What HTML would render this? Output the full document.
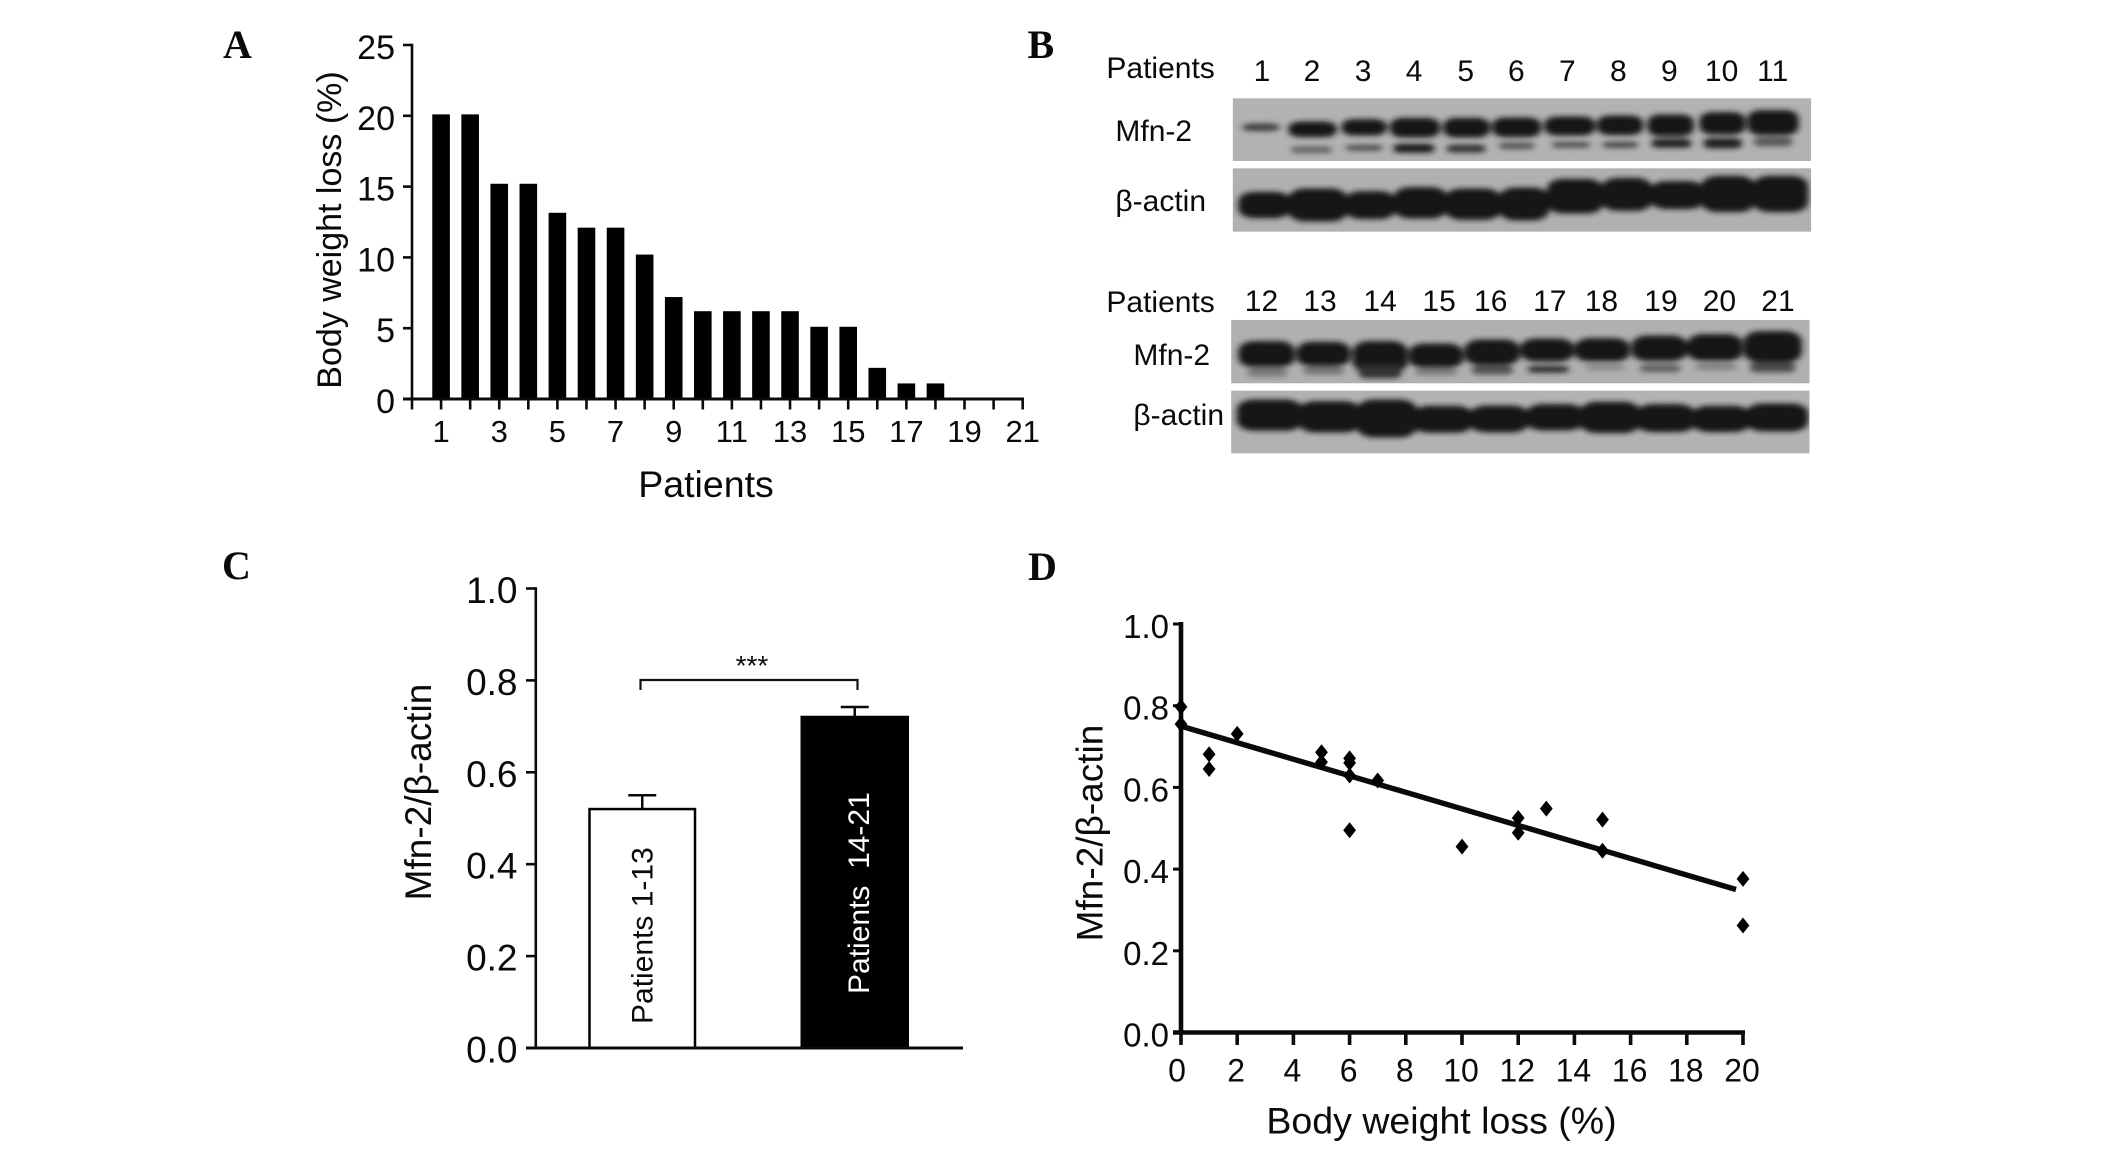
<!DOCTYPE html>
<html lang="en">
<head>
<meta charset="utf-8">
<title>Mfn-2 expression and body weight loss</title>
<style>
html,body{margin:0;padding:0;background:#fff;width:2126px;height:1150px;overflow:hidden}
svg{display:block}
text{font-family:"Liberation Sans",Arial,sans-serif;fill:#0a0a0a}
.letter{font-family:"Liberation Serif",serif;font-weight:bold;font-size:40px}
.blot{font-size:30px}
.band{fill:#141414}
.band:not([style]){stroke:#141414;stroke-width:9}
</style>
</head>
<body>
<svg id="figure" xmlns="http://www.w3.org/2000/svg" width="2126" height="1150" viewBox="0 0 2126 1150">
  <defs>
    <filter id="soft" x="-5%" y="-5%" width="110%" height="110%"><feGaussianBlur stdDeviation="6 8"/></filter>
    <clipPath id="blot-clip">
      <rect x="403" y="235" width="1087" height="188"/>
      <rect x="403" y="445" width="1087" height="190"/>
      <rect x="400" y="900" width="1087" height="190"/>
      <rect x="400" y="1112" width="1087" height="188"/>
    </clipPath>
  </defs>
  <rect width="2126" height="1150" fill="#fff"/>
  <text class="letter" x="223" y="58">A</text>
  <text class="letter" x="1027.5" y="58">B</text>
  <text class="letter" x="222" y="579">C</text>
  <text class="letter" x="1028" y="580">D</text>

  <g id="panel-a"></g>

  <g id="panel-b" transform="translate(-1.6 0)">
    <g transform="translate(1020 20) scale(0.532 0.3333)">
      <rect x="403" y="235" width="1087" height="188" fill="#b2b2b2"/>
      <rect x="403" y="445" width="1087" height="190" fill="#b0b0b0"/>
      <rect x="400" y="900" width="1087" height="190" fill="#b0b0b0"/>
      <rect x="400" y="1112" width="1087" height="188" fill="#b2b2b2"/>
      <g clip-path="url(#blot-clip)">
      <g filter="url(#soft)">
        <g>
          <rect class="band" x="420" y="311" width="72" height="22" rx="20" ry="11" style="fill:#3a3a3a"/>
          <rect class="band" x="512" y="309" width="82" height="38" rx="20" ry="15"/>
          <rect class="band" x="612" y="302" width="76" height="40" rx="20" ry="15"/>
          <rect class="band" x="703" y="298" width="85" height="50" rx="20" ry="18"/>
          <rect class="band" x="803" y="298" width="79" height="50" rx="20" ry="18"/>
          <rect class="band" x="895" y="297" width="83" height="50" rx="20" ry="18"/>
          <rect class="band" x="993" y="294" width="87" height="48" rx="20" ry="18"/>
          <rect class="band" x="1092" y="291" width="78" height="50" rx="20" ry="18"/>
          <rect class="band" x="1187" y="288" width="78" height="56" rx="20" ry="18"/>
          <rect class="band" x="1285" y="281" width="77" height="58" rx="20" ry="18"/>
          <rect class="band" x="1375" y="275" width="87" height="66" rx="20" ry="20"/>
          <rect class="band" x="512" y="380" width="78" height="19" rx="14" ry="8" style="fill:#606060"/>
          <rect class="band" x="615" y="375" width="70" height="17" rx="14" ry="7" style="fill:#484848"/>
          <rect class="band" x="705" y="372" width="77" height="26" rx="14" ry="10" style="fill:#181818"/>
          <rect class="band" x="805" y="374" width="73" height="24" rx="14" ry="9" style="fill:#333"/>
          <rect class="band" x="903" y="368" width="67" height="19" rx="14" ry="8" style="fill:#505050"/>
          <rect class="band" x="1003" y="366" width="72" height="17" rx="14" ry="7" style="fill:#484848"/>
          <rect class="band" x="1098" y="366" width="67" height="17" rx="14" ry="7" style="fill:#3e3e3e"/>
          <rect class="band" x="1190" y="357" width="75" height="26" rx="14" ry="10" style="fill:#1b1b1b"/>
          <rect class="band" x="1288" y="355" width="72" height="30" rx="14" ry="11" style="fill:#1b1b1b"/>
          <rect class="band" x="1382" y="351" width="73" height="28" rx="14" ry="10" style="fill:#585858"/>
        </g>
        <g>
          <rect class="band" x="418" y="520" width="90" height="70" rx="26" ry="24"/>
          <rect class="band" x="512" y="510" width="102" height="90" rx="26" ry="26"/>
          <rect class="band" x="618" y="518" width="87" height="75" rx="26" ry="24"/>
          <rect class="band" x="710" y="506" width="92" height="85" rx="26" ry="26"/>
          <rect class="band" x="806" y="510" width="97" height="85" rx="26" ry="26"/>
          <rect class="band" x="908" y="507" width="85" height="90" rx="26" ry="26"/>
          <rect class="band" x="998" y="481" width="97" height="95" rx="26" ry="26"/>
          <rect class="band" x="1100" y="478" width="87" height="90" rx="26" ry="26"/>
          <rect class="band" x="1192" y="488" width="93" height="75" rx="26" ry="24"/>
          <rect class="band" x="1288" y="472" width="92" height="100" rx="26" ry="26"/>
          <rect class="band" x="1385" y="472" width="95" height="100" rx="26" ry="26"/>
        </g>
        <g>
          <rect class="band" x="418" y="968" width="97" height="70" rx="26" ry="24"/>
          <rect class="band" x="527" y="970" width="93" height="65" rx="26" ry="24"/>
          <rect class="band" x="633" y="968" width="94" height="85" rx="26" ry="26"/>
          <rect class="band" x="738" y="975" width="94" height="65" rx="26" ry="24"/>
          <rect class="band" x="843" y="963" width="95" height="68" rx="26" ry="24"/>
          <rect class="band" x="948" y="960" width="92" height="60" rx="26" ry="22"/>
          <rect class="band" x="1050" y="959" width="95" height="62" rx="26" ry="22"/>
          <rect class="band" x="1157" y="951" width="96" height="68" rx="26" ry="24"/>
          <rect class="band" x="1262" y="947" width="95" height="72" rx="26" ry="24"/>
          <rect class="band" x="1368" y="938" width="100" height="85" rx="26" ry="26"/>
          <rect class="band" x="430" y="1043" width="75" height="28" rx="14" ry="10" style="fill:#7a7a7a"/>
          <rect class="band" x="535" y="1040" width="77" height="24" rx="14" ry="10" style="fill:#757575"/>
          <rect class="band" x="640" y="1035" width="80" height="40" rx="14" ry="12" style="fill:#333"/>
          <rect class="band" x="745" y="1044" width="80" height="22" rx="14" ry="10" style="fill:#7a7a7a"/>
          <rect class="band" x="852" y="1037" width="78" height="26" rx="14" ry="10" style="fill:#505050"/>
          <rect class="band" x="957" y="1038" width="78" height="20" rx="14" ry="9" style="fill:#262626"/>
          <rect class="band" x="1065" y="1032" width="75" height="20" rx="14" ry="9" style="fill:#8a8a8a"/>
          <rect class="band" x="1168" y="1033" width="77" height="24" rx="14" ry="10" style="fill:#606060"/>
          <rect class="band" x="1272" y="1030" width="78" height="20" rx="14" ry="9" style="fill:#808080"/>
          <rect class="band" x="1375" y="1027" width="85" height="30" rx="14" ry="11" style="fill:#484848"/>
        </g>
        <g>
          <rect class="band" x="415" y="1143" width="115" height="85" rx="28" ry="26"/>
          <rect class="band" x="530" y="1148" width="110" height="85" rx="28" ry="26"/>
          <rect class="band" x="640" y="1143" width="105" height="105" rx="28" ry="28"/>
          <rect class="band" x="745" y="1162" width="105" height="72" rx="28" ry="24"/>
          <rect class="band" x="852" y="1161" width="103" height="72" rx="28" ry="24"/>
          <rect class="band" x="958" y="1157" width="102" height="70" rx="28" ry="24"/>
          <rect class="band" x="1060" y="1150" width="105" height="85" rx="28" ry="26"/>
          <rect class="band" x="1165" y="1157" width="103" height="75" rx="28" ry="24"/>
          <rect class="band" x="1270" y="1162" width="102" height="70" rx="28" ry="24"/>
          <rect class="band" x="1372" y="1155" width="108" height="75" rx="28" ry="24"/>
        </g>
      </g>
      </g>
    </g>
    <text class="blot" x="1108" y="78">Patients</text>
    <text class="blot" x="1117" y="141">Mfn-2</text>
    <text class="blot" x="1117" y="211">β-actin</text>
    <text class="blot" x="1108" y="312">Patients</text>
    <text class="blot" x="1135" y="365">Mfn-2</text>
    <text class="blot" x="1135" y="425">β-actin</text>
    <g text-anchor="middle" class="blot">
      <text x="1263.6" y="81">1</text>
      <text x="1313.6" y="81">2</text>
      <text x="1364.7" y="81">3</text>
      <text x="1415.7" y="81">4</text>
      <text x="1467.3" y="81">5</text>
      <text x="1517.9" y="81">6</text>
      <text x="1568.9" y="81">7</text>
      <text x="1620" y="81">8</text>
      <text x="1671" y="81">9</text>
      <text x="1723.2" y="81">10</text>
      <text x="1774.3" y="81">11</text>
    </g>
    <g text-anchor="middle" class="blot">
      <text x="1263.1" y="311">12</text>
      <text x="1321.6" y="311">13</text>
      <text x="1381.7" y="311">14</text>
      <text x="1440.7" y="311">15</text>
      <text x="1492.3" y="311">16</text>
      <text x="1551.4" y="311">17</text>
      <text x="1603" y="311">18</text>
      <text x="1662.6" y="311">19</text>
      <text x="1721" y="311">20</text>
      <text x="1779.6" y="311">21</text>
    </g>
  </g>

  <g id="panel-c"></g>
  <g id="panel-d"></g>
</svg>

<script>
/* Panel A data */
const patientNumbers = [1,2,3,4,5,6,7,8,9,10,11,12,13,14,15,16,17,18,19,20,21];
const weightLoss = [20.1,20.1,15.2,15.2,13.15,12.1,12.1,10.2,7.2,6.2,6.2,6.2,6.2,5.1,5.1,2.2,1.1,1.1,0,0,0];
const weightTicks = [0,5,10,15,20,25];
const patientTickLabels = [1,3,5,7,9,11,13,15,17,19,21];

/* Panel C data */
const groupNames = ['Patients 1-13','Patients  14-21'];
const groupMeans = [0.52,0.722];
const groupErrors = [0.03,0.02];
const ratioTicksC = ['0.0','0.2','0.4','0.6','0.8','1.0'];

/* Panel D data */
const lossValues = [0,0,1,1,2,5,5,6,6,6,6,7,10,12,12,13,15,15,20,20];
const ratioValues = [0.797,0.755,0.681,0.645,0.731,0.686,0.662,0.671,0.66,0.629,0.495,0.617,0.455,0.525,0.489,0.548,0.521,0.445,0.376,0.262];
const trendLoss = [0,19.75];
const trendRatio = [0.75,0.35];
const lossTicks = [0,2,4,6,8,10,12,14,16,18,20];
const ratioTicksD = ['0.0','0.2','0.4','0.6','0.8','1.0'];

const NS = 'http://www.w3.org/2000/svg';
function mk(parent, tag, props) {
  const node = document.createElementNS(NS, tag);
  for (const k in props) node.setAttribute(k, props[k]);
  parent.appendChild(node);
  return node;
}
function seg(parent, x1, y1, x2, y2, w) {
  return mk(parent, 'line', {x1, y1, x2, y2, stroke:'#0a0a0a', 'stroke-width':w, 'stroke-linecap':'butt'});
}
function label(parent, x, y, s, size, anchor) {
  const t = mk(parent, 'text', {x, y, 'font-size':size, 'text-anchor':anchor});
  t.textContent = s;
  return t;
}
function vlabel(parent, x, y, s, size, anchor) {
  const t = mk(parent, 'text', {transform:'translate(' + x + ' ' + y + ') rotate(-90)', 'font-size':size, 'text-anchor':anchor});
  t.style.whiteSpace = 'pre';
  t.textContent = s;
  return t;
}

/* ---------- Panel A ---------- */
const gA = document.getElementById('panel-a');
const ax = i => 412 + i * 29.08;
const ay = v => 399 - v * 14.16;
patientNumbers.forEach((p, i) => {
  if (weightLoss[i] <= 0) return;
  const bar = mk(gA, 'rect', {x: ax(p) - 8.8, y: ay(weightLoss[i]), width: 17.6, height: ay(0) - ay(weightLoss[i]), fill:'#000'});
  
  
});
const aYAxis = seg(gA, ax(0), ay(25) - 1.3, ax(0), ay(0) + 1.5, 2.6);


const aXAxis = seg(gA, ax(0) - 9, ay(0), ax(21) + 1.3, ay(0), 3);


weightTicks.forEach(v => {
  const tick = seg(gA, ax(0) - 9, ay(v), ax(0), ay(v), 2.6);
  
  
  const t = label(gA, 395, ay(v) + 14, String(v), 34, 'end');
  
  
});
for (let i = 0; i <= 21; i++) {
  const tick = seg(gA, ax(i), ay(0), ax(i), 409.5, 2.6);
  
  
}
patientTickLabels.forEach(p => {
  const t = label(gA, ax(p), 442, String(p), 31, 'middle');
  
  
});
const aYTitle = vlabel(gA, 341, 230, 'Body weight loss (%)', 34, 'middle');


const aXTitle = label(gA, 709 - 3, 497, 'Patients', 37.5, 'middle');



/* ---------- Panel C ---------- */
const gC = document.getElementById('panel-c');
const cy = v => 1048 - v * 459.5;
const cBarLeft = [588.5, 801];
const cBarWidth = 107.5;
groupMeans.forEach((m, i) => {
  const left = cBarLeft[i];
  const cx = left + cBarWidth / 2;
  const cap = seg(gC, cx - 14, cy(m + groupErrors[i]), cx + 14, cy(m + groupErrors[i]), 2.5);
  
  
  const stem = seg(gC, cx, cy(m + groupErrors[i]), cx, cy(m), 2.5);
  
  
  const bar = mk(gC, 'rect', {x: left + (i ? 0 : 1), y: cy(m), width: cBarWidth - (i ? 0 : 2), height: cy(0) - cy(m), fill: i ? '#000' : '#fff', stroke:'#000', 'stroke-width': i ? 1 : 2.5});
  
  
});
const cYAxis = seg(gC, 535.8, cy(1) - 1.2, 535.8, cy(0) + 1.5, 2.6);


const cXAxis = seg(gC, 526, cy(0), 963, cy(0), 3);


ratioTicksC.forEach(s => {
  const v = parseFloat(s);
  const tick = seg(gC, 526, cy(v), 535.8, cy(v), 2.6);
  
  
  const t = label(gC, 517.5, cy(v) + 14.5, s, 37, 'end');
  
  
});
const cTitle = vlabel(gC, 431, 792, 'Mfn-2/β-actin', 37, 'middle');


const cName1 = vlabel(gC, 652.5, 1024, groupNames[0], 30, 'start');


const cName2 = vlabel(gC, 869, 994, groupNames[1], 30, 'start');
cName2.style.fill = '#fff';


const bracket = mk(gC, 'path', {d:'M640.5 690V680H857.5V690', fill:'none', stroke:'#111', 'stroke-width':2.2});


const stars = label(gC, 752, 675, '***', 28, 'middle');



/* ---------- Panel D ---------- */
const gD = document.getElementById('panel-d');
const dx = v => 1181 + v * 28.1;
const dy = v => 1032.5 - v * 408.5;
const dYAxis = seg(gD, dx(0), dy(1) - 2, dx(0), dy(0) + 2, 4.6);


const dXAxis = seg(gD, dx(0) - 8, dy(0), dx(20) + 2, dy(0), 4.6);


ratioTicksD.forEach(s => {
  const v = parseFloat(s);
  const tick = seg(gD, 1173, dy(v), dx(0), dy(v), 3);
  
  
  const t = label(gD, 1169, dy(v) + 14, s, 33, 'end');
  
  
});
lossTicks.forEach(v => {
  const tick = seg(gD, dx(v), dy(0), dx(v), dy(0) + 12.5, 3.6);
  
  
  const t = label(gD, dx(v) - (v === 0 ? 4 : 1), 1081.5, String(v), 32, 'middle');
  
  
});
const trend = seg(gD, dx(trendLoss[0]), dy(trendRatio[0]), dx(trendLoss[1]), dy(trendRatio[1]), 5.4);


lossValues.forEach((x, i) => {
  const px = dx(x), py = dy(ratioValues[i]);
  const pt = mk(gD, 'path', {d:'M' + (px - 6.4) + ' ' + py + 'L' + px + ' ' + (py - 8) + 'L' + (px + 6.4) + ' ' + py + 'L' + px + ' ' + (py + 8) + 'Z', fill:'#000'});
  
  
});
const dYTitle = vlabel(gD, 1102.5, 833, 'Mfn-2/β-actin', 37, 'middle');


const dXTitle = label(gD, 1441.5, 1133.5, 'Body weight loss (%)', 37.5, 'middle');


</script>
</body>
</html>
